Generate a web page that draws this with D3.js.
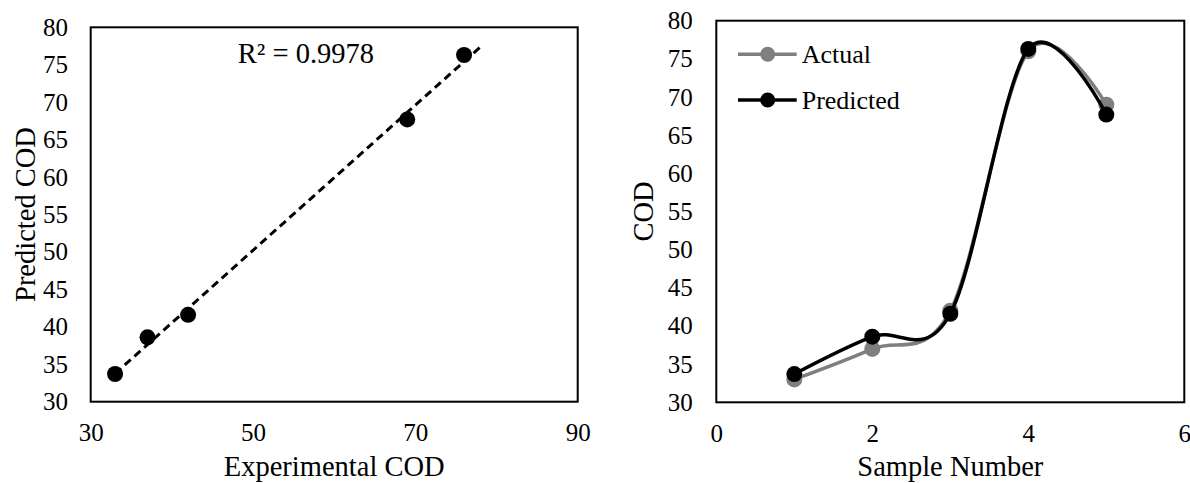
<!DOCTYPE html>
<html>
<head>
<meta charset="utf-8">
<script src="https://cdn.jsdelivr.net/npm/d3@7"></script>
<style>
  html, body { margin: 0; padding: 0; background: #fff; }
  svg { display: block; }
  svg text { font-family: "Liberation Serif", "Times New Roman", serif !important; }
</style>
</head>
<body>
<svg id="chart" width="1190" height="483"></svg>
<script>
// ---- Data ----
const samples = [1, 2, 3, 4, 5];
const actualCOD = [33, 37, 42, 76, 69];
const predictedCOD = [33.7, 38.6, 41.6, 76.3, 67.7];
const r2Label = "R² = 0.9978";
const leftXTicks = [30, 50, 70, 90];
const yTicks = [30, 35, 40, 45, 50, 55, 60, 65, 70, 75, 80];
const rightXTicks = [0, 2, 4, 6];
const seriesNames = ["Actual", "Predicted"];
const trendForward = 2;

const svg = d3.select("#chart");
const tickFont = 25, titleFont = 28.5, legendFont = 26;
const fmt = d3.format("d");

// ---- Left scatter ----
const L = { x0: 90.7, x1: 577.7, y0: 27.3, y1: 401.7 };
const lx = d3.scaleLinear().domain([30, 90]).range([L.x0, L.x1]);
const ly = d3.scaleLinear().domain([30, 80]).range([L.y1, L.y0]);

const gL = svg.append("g");
gL.append("rect").attr("x", L.x0).attr("y", L.y0).attr("width", L.x1 - L.x0).attr("height", L.y1 - L.y0)
  .attr("fill", "none").attr("stroke", "#000").attr("stroke-width", 2);

const gyl = gL.append("g").attr("transform", `translate(${L.x0},0)`)
  .call(d3.axisLeft(ly).tickValues(yTicks).tickFormat(fmt).tickSize(0).tickPadding(22.7));
const gxl = gL.append("g").attr("transform", `translate(0,${L.y1})`)
  .call(d3.axisBottom(lx).tickValues(leftXTicks).tickFormat(fmt).tickSize(0).tickPadding(22));

// regression trendline
const pts = actualCOD.map((a, i) => [a, predictedCOD[i]]);
const mx = d3.mean(pts, d => d[0]), my = d3.mean(pts, d => d[1]);
const slope = d3.sum(pts, d => (d[0] - mx) * (d[1] - my)) / d3.sum(pts, d => (d[0] - mx) ** 2);
const icpt = my - slope * mx;
const tx0 = d3.min(actualCOD), tx1 = d3.max(actualCOD) + trendForward;
gL.append("line")
  .attr("x1", lx(tx0)).attr("y1", ly(icpt + slope * tx0))
  .attr("x2", lx(tx1)).attr("y2", ly(icpt + slope * tx1))
  .attr("stroke", "#000").attr("stroke-width", 3).attr("stroke-dasharray", "8,5");

gL.selectAll("circle.pt").data(pts).join("circle").attr("class", "pt")
  .attr("cx", d => lx(d[0])).attr("cy", d => ly(d[1])).attr("r", 8).attr("fill", "#000");

gL.append("text").attr("x", 306).attr("y", 53.3).attr("dy", "0.35em").attr("text-anchor", "middle")
  .attr("font-size", titleFont).text(r2Label);

gL.append("text").attr("x", (L.x0 + L.x1) / 2).attr("y", 476).attr("text-anchor", "middle")
  .attr("font-size", titleFont).text("Experimental COD");
gL.append("text").attr("transform", `translate(25,${(L.y0 + L.y1) / 2}) rotate(-90)`)
  .attr("dy", "0.35em").attr("text-anchor", "middle").attr("font-size", titleFont).text("Predicted COD");

// ---- Right line chart ----
const R = { x0: 716.3, x1: 1184.3, y0: 20.7, y1: 402.3 };
const rx = d3.scaleLinear().domain([0, 6]).range([R.x0, R.x1]);
const ry = d3.scaleLinear().domain([30, 80]).range([R.y1, R.y0]);

const gR = svg.append("g");
gR.append("rect").attr("x", R.x0).attr("y", R.y0).attr("width", R.x1 - R.x0).attr("height", R.y1 - R.y0)
  .attr("fill", "none").attr("stroke", "#000").attr("stroke-width", 2);
const gyr = gR.append("g").attr("transform", `translate(${R.x0},0)`)
  .call(d3.axisLeft(ry).tickValues(yTicks).tickFormat(fmt).tickSize(0).tickPadding(23.6));
const gxr = gR.append("g").attr("transform", `translate(0,${R.y1})`)
  .call(d3.axisBottom(rx).tickValues(rightXTicks).tickFormat(fmt).tickSize(0).tickPadding(22));

[gyl, gxl, gyr, gxr].forEach(g => {
  g.attr("font-family", null).attr("font-size", null);
  g.select(".domain").remove();
  g.selectAll("text").attr("font-size", tickFont).attr("fill", "#000");
});

const series = [
  { name: seriesNames[0], values: actualCOD, color: "#7f7f7f" },
  { name: seriesNames[1], values: predictedCOD, color: "#000" }
];
const line = d3.line().x(d => rx(d[0])).y(d => ry(d[1])).curve(d3.curveCardinal.tension(0));
series.forEach(s => {
  const data = samples.map((x, i) => [x, s.values[i]]);
  gR.append("path").attr("d", line(data)).attr("fill", "none").attr("stroke", s.color)
    .attr("stroke-width", 3.5).attr("stroke-linejoin", "round");
  gR.selectAll(null).data(data).join("circle")
    .attr("cx", d => rx(d[0])).attr("cy", d => ry(d[1])).attr("r", 8).attr("fill", s.color);
});

gR.append("text").attr("x", (R.x0 + R.x1) / 2).attr("y", 476).attr("text-anchor", "middle")
  .attr("font-size", titleFont).text("Sample Number");
gR.append("text").attr("transform", `translate(643,${(R.y0 + R.y1) / 2}) rotate(-90)`)
  .attr("dy", "0.35em").attr("text-anchor", "middle").attr("font-size", titleFont).text("COD");

// legend
const legY = [54.3, 100];
series.forEach((s, i) => {
  const g = gR.append("g");
  g.append("line").attr("x1", 738).attr("x2", 796.7).attr("y1", legY[i]).attr("y2", legY[i])
    .attr("stroke", s.color).attr("stroke-width", 3.5);
  g.append("circle").attr("cx", 767.7).attr("cy", legY[i]).attr("r", 7.5).attr("fill", s.color);
  g.append("text").attr("x", 801.7).attr("y", legY[i]).attr("dy", "0.35em")
    .attr("font-size", legendFont).attr("fill", "#000").text(s.name);
});
</script>
</body>
</html>
